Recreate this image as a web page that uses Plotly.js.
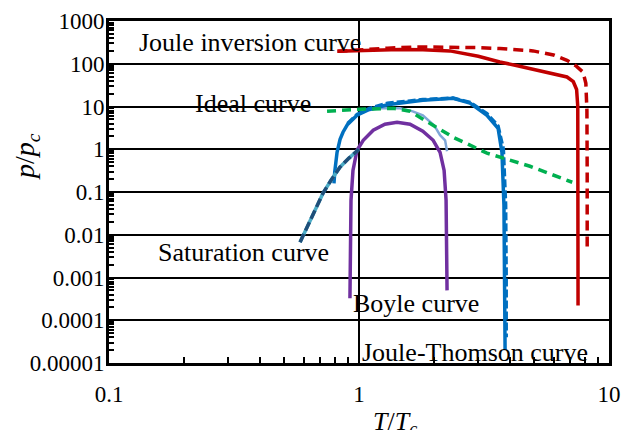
<!DOCTYPE html>
<html>
<head>
<meta charset="utf-8">
<script src="https://cdn.plot.ly/plotly-3.0.1.min.js"></script>
</head>
<body style="margin:0;background:#fff">
<div id="chart" style="width:623px;height:430px"></div>
<script>
// ---- data (T/Tc , p/pc) ----
const jouleInvSolidX = [0.82, 1.0, 1.2, 1.46, 1.8, 2.31, 3.0, 3.66, 4.3, 4.97, 5.9, 6.79, 7.2, 7.42, 7.5, 7.52, 7.52];
const jouleInvSolidY = [196, 205, 212, 216, 212, 200, 150, 110, 90, 74, 60, 49, 38, 25, 10, 0.5, 0.00022];
const jouleInvDashX = [0.82, 1.0, 1.3, 1.71, 2.31, 3.0, 3.66, 4.97, 6.0, 6.79, 7.4, 7.87, 8.08, 8.16, 8.18, 8.18];
const jouleInvDashY = [196, 212, 232, 248, 248, 238, 227, 200, 160, 120, 88, 64, 35, 8, 0.3, 0.005];
const idealX = [0.745, 1.01, 1.37, 1.6, 1.75, 2.38, 3.25, 4.83, 7.13];
const idealY = [7.74, 8.6, 9.1, 7.74, 5.6, 1.91, 0.81, 0.40, 0.169];
const jtSolidX = [0.794, 0.80, 0.817, 0.84, 0.863, 0.9, 0.982, 1.1, 1.3, 1.6, 1.8, 2.38, 2.78, 3.25, 3.6, 3.73, 3.8, 3.84];
const jtSolidY = [0.16, 0.3, 0.85, 1.7, 2.5, 3.8, 6.24, 8.5, 11, 13, 14, 15.6, 12, 6.24, 3.1, 0.85, 0.049, 0.00002];
const jtDashX = [0.9, 0.982, 1.1, 1.3, 1.6, 1.8, 2.38, 2.78, 3.25, 3.6, 3.78, 3.86, 3.88, 3.88];
const jtDashY = [4, 6.5, 9, 12, 13.5, 14.5, 15.8, 12.5, 6.8, 3.5, 1, 0.05, 0.001, 0.00004];
const lightX = [1.1, 1.21, 1.46, 1.64, 1.8, 2.0, 2.11, 2.21, 2.25];
const lightY = [8.3, 9.1, 9.1, 7.7, 6.24, 3.6, 2.13, 1.62, 0.9];
const satX = [0.581, 0.643, 0.718, 0.773, 0.839, 0.912, 1.0];
const satY = [0.0067, 0.023, 0.094, 0.188, 0.38, 0.62, 1.0];
const boyleX = [0.92, 0.929, 0.946, 0.982, 1.04, 1.14, 1.27, 1.42, 1.6, 1.8, 1.98, 2.11, 2.19, 2.23, 2.25];
const boyleY = [0.000327, 0.064, 0.32, 0.95, 1.62, 2.78, 3.84, 4.28, 3.84, 2.64, 1.62, 0.85, 0.32, 0.064, 0.0005];

const xTickVals = [0.1, 1, 10];
const xTickText = ["0.1", "1", "10"];
const yTickVals = [1000, 100, 10, 1, 0.1, 0.01, 0.001, 0.0001, 0.00001];
const yTickText = ["1000", "100", "10", "1", "0.1", "0.01", "0.001", "0.0001", "0.00001"];

const labels = ["Joule inversion curve", "Ideal curve", "Saturation curve", "Boyle curve", "Joule-Thomson curve"];
const xTitle = "<i>T</i>/<i>T</i><sub><i>c</i></sub>";
const yTitle = "<i>p</i>/<i>p</i><sub><i>c</i></sub>";

// minor tick positions (2..9 within each decade)
function minorVals(lo, hi) {
  const out = [];
  for (let e = lo; e < hi; e++) for (let m = 2; m <= 9; m++) out.push(m * Math.pow(10, e));
  return out;
}

const RED = "#C00000", BLUE = "#0070C0", PURPLE = "#7030A0", GREEN = "#00B050";

const traces = [
  {x: lightX, y: lightY, mode: "lines", line: {color: "#7FA7D8", width: 2.5}},
  {x: boyleX, y: boyleY, mode: "lines", line: {color: PURPLE, width: 3.5}},
  {x: jtSolidX, y: jtSolidY, mode: "lines", line: {color: BLUE, width: 3.5}},
  {x: jtDashX, y: jtDashY, mode: "lines", line: {color: BLUE, width: 3.5, dash: "8px,3px"}},
  {x: satX, y: satY, mode: "lines", line: {color: "#4BACC6", width: 3.5}},
  {x: satX, y: satY, mode: "lines", line: {color: "#1F4E79", width: 3.5, dash: "9px,4px"}},
  {x: idealX, y: idealY, mode: "lines", line: {color: GREEN, width: 3.5, dash: "9px,6px"}},
  {x: jouleInvSolidX, y: jouleInvSolidY, mode: "lines", line: {color: RED, width: 3.5}},
  {x: jouleInvDashX, y: jouleInvDashY, mode: "lines", line: {color: RED, width: 3.5, dash: "10px,6px"}}
];

const FONT = "Liberation Serif";
const labelPos = [[0.056, 0.936], [0.168, 0.760], [0.094, 0.322], [0.484, 0.175], [0.502, 0.032]];

const annotations = labels.map((t, i) => ({
  text: t, xref: "paper", yref: "paper", x: labelPos[i][0], y: labelPos[i][1],
  xanchor: "left", yanchor: "middle", showarrow: false,
  font: {family: FONT, size: 26, color: "#000"}
}));
annotations.push({text: xTitle, xref: "paper", yref: "paper", x: 0.572, y: -0.176,
  xanchor: "center", yanchor: "middle", showarrow: false, font: {family: FONT, size: 26, color: "#000"}});
annotations.push({text: yTitle, xref: "paper", yref: "paper", x: -0.166, y: 0.602, textangle: -90,
  xanchor: "center", yanchor: "middle", showarrow: false, font: {family: FONT, size: 28, color: "#000"}});

const layout = {
  width: 623, height: 430,
  margin: {l: 109, r: 14, t: 21, b: 67},
  paper_bgcolor: "#fff", plot_bgcolor: "#fff",
  showlegend: false,
  font: {family: FONT, size: 23, color: "#000"},
  xaxis: {
    type: "log", range: [-1, 1],
    tickmode: "array", tickvals: xTickVals, ticktext: xTickText,
    ticks: "", ticklabelstandoff: 8,
    tickfont: {family: FONT, size: 23, color: "#000"},
    showgrid: true, gridcolor: "#000", gridwidth: 1.5,
    showline: true, linecolor: "#000", linewidth: 3, mirror: true,
    zeroline: false,
    minor: {tickmode: "array", tickvals: minorVals(-1, 1), ticks: "inside", ticklen: 6, tickwidth: 1.5, tickcolor: "#000", showgrid: false}
  },
  yaxis: {
    type: "log", range: [-5, 3],
    tickmode: "array", tickvals: yTickVals, ticktext: yTickText,
    ticks: "", ticklabelstandoff: -3,
    tickfont: {family: FONT, size: 23, color: "#000"},
    showgrid: true, gridcolor: "#000", gridwidth: 1.5,
    showline: true, linecolor: "#000", linewidth: 3, mirror: true,
    zeroline: false,
    minor: {tickmode: "array", tickvals: minorVals(-5, 3), ticks: "inside", ticklen: 5, tickwidth: 1.5, tickcolor: "#000", showgrid: false}
  },
  annotations: annotations
};

Plotly.newPlot("chart", traces, layout, {displayModeBar: false});
</script>
</body>
</html>
